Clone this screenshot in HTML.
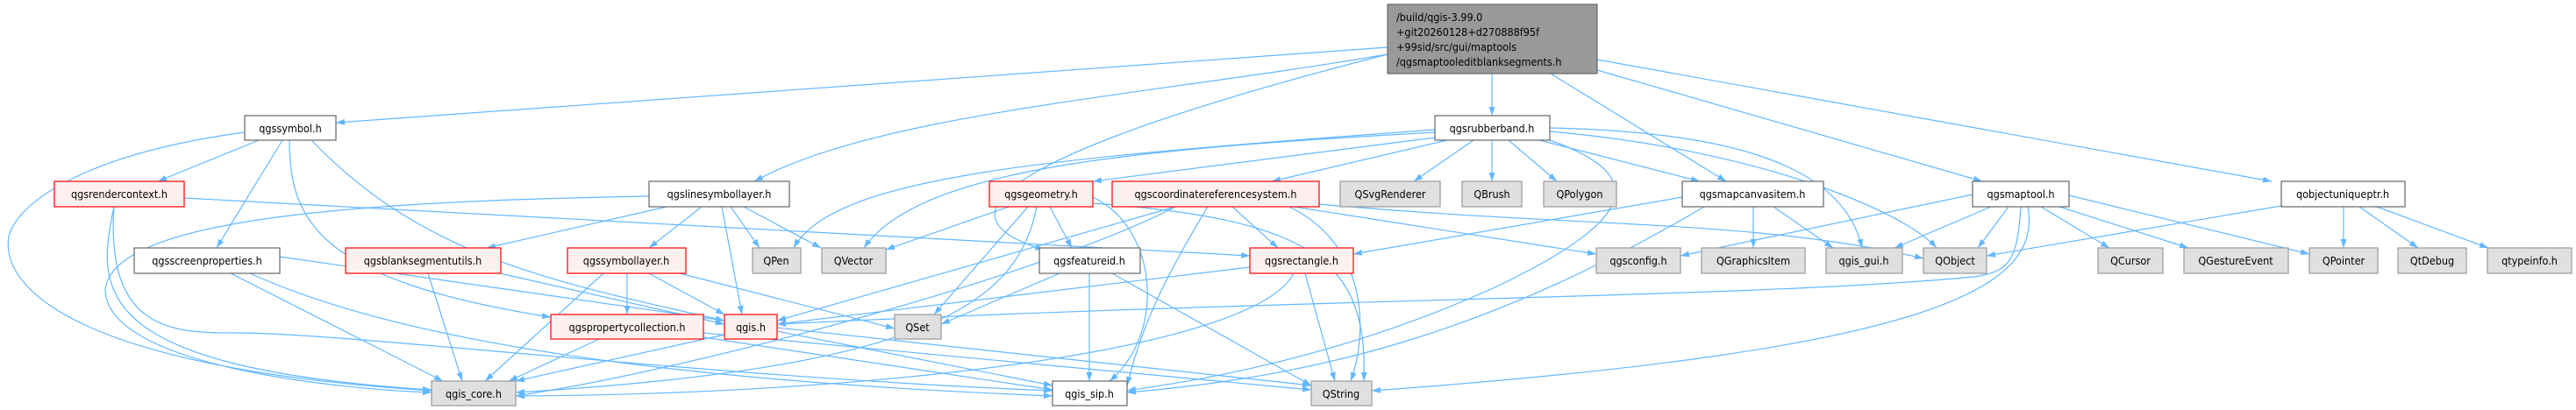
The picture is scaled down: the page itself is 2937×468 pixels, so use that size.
<!DOCTYPE html>
<html><head><meta charset="utf-8"><style>
html,body{margin:0;padding:0;background:#fff;}
svg{display:block;}
text{font-family:"DejaVu Sans Condensed","Liberation Sans",sans-serif;font-size:12.5px;fill:#000;}
.e{fill:none;stroke:#63b8ff;stroke-width:1.2;marker-end:url(#a);}
.w{fill:#fff;stroke:#666;stroke-width:1.2;}
.g{fill:#e0e0e0;stroke:#999;stroke-width:1.2;}
.r{fill:#fff0f0;stroke:#f00;stroke-width:1.2;}
.m{fill:#999;stroke:#666;stroke-width:1.2;}
</style></head><body>
<svg width="2937" height="468" viewBox="0 0 2937 468" xmlns="http://www.w3.org/2000/svg">
<defs><marker id="a" markerUnits="userSpaceOnUse" markerWidth="11" markerHeight="8" refX="10" refY="3.5" orient="auto"><path d="M0,0 L10,3.5 L0,7 z" fill="#63b8ff"/></marker></defs>
<g>
<path class="e" d="M1582,54 L383,140"/>
<path class="e" d="M1582,62 C1300,110 1000,130 860,207"/>
<path class="e" d="M1582,62 C1200,160 1040,240 1190,285"/>
<path class="e" d="M1701,84 L1701,132"/>
<path class="e" d="M1768,84 L1968,207"/>
<path class="e" d="M1821,80 L2260,207"/>
<path class="e" d="M1821,68 L2590,207"/>

<path class="e" d="M279,151 C100,175 20,230 10,270 C0,330 90,420 492,446"/>
<path class="e" d="M295,160 L180,207"/>
<path class="e" d="M322,160 L247,283"/>
<path class="e" d="M330,160 C330,250 360,320 628,362"/>
<path class="e" d="M355,160 C480,290 620,320 826,366"/>

<path class="e" d="M130,236 C110,330 100,420 492,445"/>
<path class="e" d="M130,236 C120,380 200,380 270,380 C400,380 800,430 1200,446"/>
<path class="e" d="M210,226 L1425,292"/>

<path class="e" d="M740,224 C400,230 130,250 120,330 C120,420 400,445 492,448"/>
<path class="e" d="M760,236 L555,283"/>
<path class="e" d="M800,236 L740,283"/>
<path class="e" d="M823,236 L846,359"/>
<path class="e" d="M833,236 L866,283"/>
<path class="e" d="M848,236 L936,283"/>

<path class="e" d="M319,293 L826,366"/>
<path class="e" d="M263,312 L505,435"/>
<path class="e" d="M285,312 C500,410 900,440 1200,452"/>

<path class="e" d="M488,312 L527,435"/>
<path class="e" d="M570,312 L826,370"/>

<path class="e" d="M688,312 L553,435"/>
<path class="e" d="M715,312 L715,359"/>
<path class="e" d="M740,312 L826,359"/>
<path class="e" d="M775,312 L1020,375"/>

<path class="e" d="M683,387 L580,435"/>
<path class="e" d="M802,385 L1200,445"/>
<path class="e" d="M802,380 L1495,445"/>

<path class="e" d="M826,382 L588,435"/>
<path class="e" d="M886,378 L1200,440"/>
<path class="e" d="M886,374 L1495,440"/>

<path class="e" d="M1644,156 L1246,207"/>
<path class="e" d="M1650,160 L1450,207"/>
<path class="e" d="M1680,160 L1612,207"/>
<path class="e" d="M1701,160 L1701,207"/>
<path class="e" d="M1720,160 L1775,207"/>
<path class="e" d="M1755,160 L1938,207"/>
<path class="e" d="M1636,151 C1300,170 1050,190 985,283"/>
<path class="e" d="M1636,148 C1200,180 950,200 905,283"/>
<path class="e" d="M1767,146 C1950,150 2100,180 2123,283"/>
<path class="e" d="M1767,150 C2000,170 2170,240 2208,283"/>
<path class="e" d="M1767,160 C1880,200 1870,250 1700,330 C1500,420 1320,440 1285,446"/>

<path class="e" d="M1150,236 L1010,285"/>
<path class="e" d="M1172,236 L1065,359"/>
<path class="e" d="M1197,236 L1222,283"/>
<path class="e" d="M1246,225 C1320,260 1330,380 1265,435"/>
<path class="e" d="M1182,236 C1160,350 1050,420 588,448"/>
<path class="e" d="M1246,232 C1500,250 1560,300 1555,435"/>

<path class="e" d="M1340,236 C1200,310 800,420 588,452"/>
<path class="e" d="M1405,236 L1457,283"/>
<path class="e" d="M1377,236 C1320,330 1300,380 1285,440"/>
<path class="e" d="M1470,236 C1560,280 1560,380 1540,435"/>
<path class="e" d="M1475,236 L1820,290"/>
<path class="e" d="M1504,233 C1800,260 2000,250 2193,295"/>
<path class="e" d="M1340,236 L886,366"/>

<path class="e" d="M1208,312 L1073,370"/>
<path class="e" d="M1242,312 L1242,435"/>
<path class="e" d="M1268,312 L1495,440"/>

<path class="e" d="M1425,305 L886,370"/>
<path class="e" d="M1475,312 C1430,400 1000,450 588,452"/>
<path class="e" d="M1488,312 L1522,435"/>

<path class="e" d="M1918,225 L1543,290"/>
<path class="e" d="M1999,236 L1999,283"/>
<path class="e" d="M2022,236 L2090,283"/>
<path class="e" d="M1943,236 C1700,380 1500,430 1285,448"/>

<path class="e" d="M2249,222 L1916,292"/>
<path class="e" d="M2270,236 L2160,283"/>
<path class="e" d="M2290,236 L2255,283"/>
<path class="e" d="M2327,236 L2405,283"/>
<path class="e" d="M2348,236 L2495,283"/>
<path class="e" d="M2359,223 L2633,290"/>
<path class="e" d="M2304,236 C2300,300 2290,310 2250,316 C2000,340 1500,340 886,370"/>
<path class="e" d="M2312,236 C2330,330 2200,400 1564,446"/>

<path class="e" d="M2601,235 L2265,292"/>
<path class="e" d="M2672,236 L2672,283"/>
<path class="e" d="M2690,236 L2757,283"/>
<path class="e" d="M2710,236 L2837,283"/>
</g>
<g text-anchor="middle">
<rect class="m" x="1582" y="5" width="239" height="79"/>
<text x="1592" y="24" text-anchor="start">/build/qgis-3.99.0</text>
<text x="1592" y="41" text-anchor="start">+git20260128+d270888f95f</text>
<text x="1592" y="58" text-anchor="start">+99sid/src/gui/maptools</text>
<text x="1592" y="75" text-anchor="start">/qgsmaptooleditblanksegments.h</text>

<rect class="w" x="279" y="132" width="104" height="28"/><text x="331" y="151">qgssymbol.h</text>
<rect class="w" x="1636" y="132" width="131" height="28"/><text x="1701" y="151">qgsrubberband.h</text>

<rect class="r" x="62" y="207" width="148" height="29"/><text x="136" y="226">qgsrendercontext.h</text>
<rect class="w" x="740" y="207" width="160" height="29"/><text x="820" y="226">qgslinesymbollayer.h</text>
<rect class="r" x="1128" y="207" width="118" height="29"/><text x="1187" y="226">qgsgeometry.h</text>
<rect class="r" x="1268" y="207" width="236" height="29"/><text x="1386" y="226">qgscoordinatereferencesystem.h</text>
<rect class="g" x="1528" y="207" width="114" height="29"/><text x="1585" y="226">QSvgRenderer</text>
<rect class="g" x="1667" y="207" width="68" height="29"/><text x="1701" y="226">QBrush</text>
<rect class="g" x="1760" y="207" width="83" height="29"/><text x="1801" y="226">QPolygon</text>
<rect class="w" x="1918" y="207" width="161" height="29"/><text x="1998" y="226">qgsmapcanvasitem.h</text>
<rect class="w" x="2249" y="207" width="110" height="29"/><text x="2304" y="226">qgsmaptool.h</text>
<rect class="w" x="2601" y="207" width="141" height="29"/><text x="2671" y="226">qobjectuniqueptr.h</text>

<rect class="w" x="153" y="283" width="166" height="29"/><text x="236" y="302">qgsscreenproperties.h</text>
<rect class="r" x="394" y="283" width="177" height="29"/><text x="482" y="302">qgsblanksegmentutils.h</text>
<rect class="r" x="647" y="283" width="135" height="29"/><text x="714" y="302">qgssymbollayer.h</text>
<rect class="g" x="858" y="283" width="55" height="29"/><text x="885" y="302">QPen</text>
<rect class="g" x="937" y="283" width="73" height="29"/><text x="973" y="302">QVector</text>
<rect class="w" x="1185" y="283" width="115" height="29"/><text x="1242" y="302">qgsfeatureid.h</text>
<rect class="r" x="1425" y="283" width="118" height="29"/><text x="1484" y="302">qgsrectangle.h</text>
<rect class="g" x="1820" y="283" width="96" height="29"/><text x="1868" y="302">qgsconfig.h</text>
<rect class="g" x="1940" y="283" width="118" height="29"/><text x="1999" y="302">QGraphicsItem</text>
<rect class="g" x="2082" y="283" width="87" height="29"/><text x="2125" y="302">qgis_gui.h</text>
<rect class="g" x="2193" y="283" width="72" height="29"/><text x="2229" y="302">QObject</text>
<rect class="g" x="2392" y="283" width="74" height="29"/><text x="2429" y="302">QCursor</text>
<rect class="g" x="2490" y="283" width="119" height="29"/><text x="2549" y="302">QGestureEvent</text>
<rect class="g" x="2633" y="283" width="78" height="29"/><text x="2672" y="302">QPointer</text>
<rect class="g" x="2734" y="283" width="78" height="29"/><text x="2773" y="302">QtDebug</text>
<rect class="g" x="2836" y="283" width="96" height="29"/><text x="2884" y="302">qtypeinfo.h</text>

<rect class="r" x="628" y="359" width="174" height="28"/><text x="715" y="378">qgspropertycollection.h</text>
<rect class="r" x="826" y="359" width="60" height="28"/><text x="856" y="378">qgis.h</text>
<rect class="g" x="1020" y="359" width="53" height="28"/><text x="1046" y="378">QSet</text>

<rect class="g" x="492" y="435" width="96" height="28"/><text x="540" y="454">qgis_core.h</text>
<rect class="w" x="1200" y="435" width="85" height="28"/><text x="1242" y="454">qgis_sip.h</text>
<rect class="g" x="1495" y="435" width="69" height="28"/><text x="1529" y="454">QString</text>
</g>
</svg>
</body></html>
